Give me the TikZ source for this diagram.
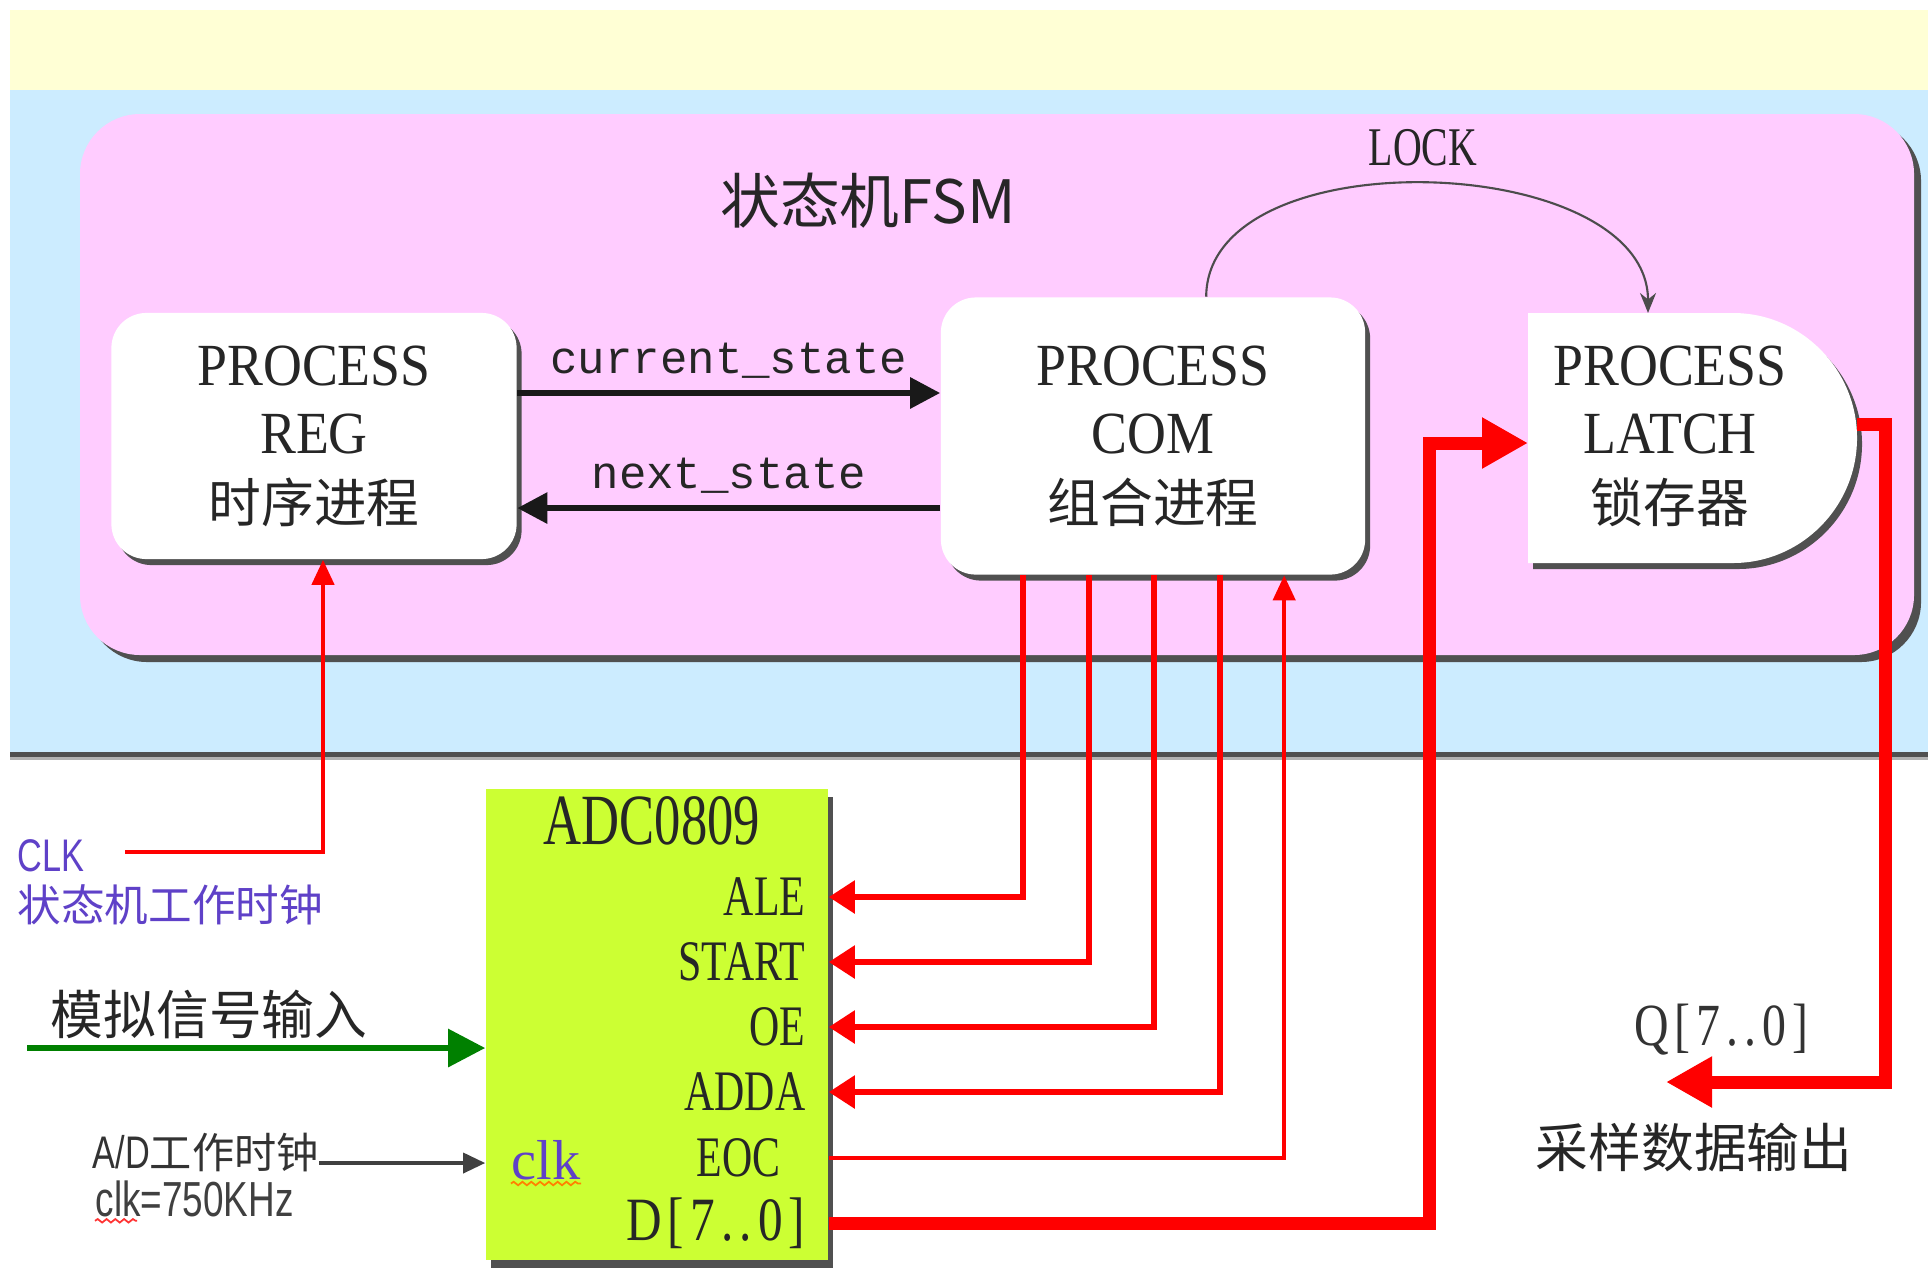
\documentclass[tikz,border=0pt]{standalone}
\usepackage{fontspec}
\setmainfont{Liberation Serif}
\setmonofont{Liberation Mono}
\newfontfamily\cjk{Noto Sans CJK SC}
\newfontfamily\procfont[FakeStretch=0.9]{Liberation Serif}
\newfontfamily\pinfont[FakeStretch=0.73]{Liberation Serif}
\newfontfamily\busfont[FakeStretch=0.8, LetterSpace=10]{Liberation Serif}
\newfontfamily\narrowsans[FakeStretch=0.75]{Liberation Sans}
\usetikzlibrary{arrows.meta, shadows, calc, decorations.pathmorphing}

\definecolor{bandyellow}{RGB}{255,255,213}
\definecolor{bandblue}{RGB}{204,236,255}
\definecolor{fsmpink}{RGB}{255,204,255}
\definecolor{adcgreen}{RGB}{204,255,51}
\definecolor{clkpurple}{RGB}{95,65,200}
\definecolor{shadowgray}{RGB}{80,80,80}
\definecolor{ingreen}{RGB}{0,128,0}

\begin{document}
\begin{tikzpicture}[x=0.01cm, y=-0.01cm,
    boxshadow/.style={drop shadow={shadow xshift=0.05cm, shadow yshift=-0.06cm, fill=shadowgray, opacity=1}},
    proc/.style={rectangle, rounded corners=0.35cm, fill=white, inner sep=0pt, align=center, text=black!85, font=\procfont\fontsize{17}{19.5}\selectfont, boxshadow},
    pinlabel/.style={anchor=east, inner sep=0pt, text=black!85, font=\pinfont\fontsize{16.3}{18}\selectfont},
    statearrow/.style={-{Triangle[length=0.3cm, width=0.3cm]}, line width=1.7pt, black!90},
    statelabel/.style={above, text=black!85, font=\ttfamily\fontsize{13}{15}\selectfont},
    ctrl/.style={-{Triangle[length=0.26cm, width=0.32cm]}, red, line width=1.6pt},
    clkarrow/.style={-{Triangle[length=0.25cm, width=0.22cm]}, red, line width=1.2pt},
    bus/.style={-{Triangle[length=0.46cm, width=0.48cm]}, red, line width=3.7pt},
    wavy/.style={decorate, decoration={snake, amplitude=0.5pt, segment length=2.5pt}, line width=0.5pt}
]
    % Fond
    \fill[white] (0,0) rectangle (1928,1269);
    \useasboundingbox (0,0) rectangle (1928,1269);
    \fill[bandyellow] (10,10) rectangle (1928,90);
    \fill[bandblue] (10,90) rectangle (1928,752);
    \fill[shadowgray] (10,752) rectangle (1928,757);
    \fill[gray!60] (10,757) rectangle (1928,760);
    \fill[fsmpink, rounded corners=0.6cm, drop shadow={shadow xshift=0.07cm, shadow yshift=-0.07cm, fill=shadowgray, opacity=1}] (80,114) rectangle (1914,655);
    \node[font=\cjk\fontsize{17}{20}\selectfont, text=black!85] (fsm) at (868,201) {状态机FSM};

    % Processus
    \node[proc, minimum width=4.05cm, minimum height=2.46cm] (reg) at (314,436) {PROCESS\\REG\\{\cjk\fontsize{15}{19.5}\selectfont 时序进程}};
    \node[proc, minimum width=4.24cm, minimum height=2.77cm] (com) at (1153,436) {PROCESS\\COM\\{\cjk\fontsize{15}{19.5}\selectfont 组合进程}};
    \fill[white, boxshadow] (1528,313) -- (1733,313) .. controls (1801,313) and (1857,369) .. (1857,438) .. controls (1857,507) and (1801,563) .. (1733,563) -- (1528,563) -- cycle;
    \node[align=center, text=black!85, font=\procfont\fontsize{17}{19.5}\selectfont] (latch) at (1670,436) {PROCESS\\LATCH\\{\cjk\fontsize{15}{19.5}\selectfont 锁存器}};
    \coordinate (latchin) at (1528,443);
    \coordinate (latchout) at (1857,424);
    \coordinate (latchtop) at (1648,313);

    % Etats
    \draw[statearrow] ([yshift=0.43cm]reg.east) -- node[statelabel] {current\_state} ([yshift=0.43cm]com.west);
    \draw[statearrow] ([yshift=-0.72cm]com.west) -- node[statelabel] {next\_state} ([yshift=-0.72cm]reg.east);

    % LOCK
    \node[font=\pinfont\fontsize{15.5}{18}\selectfont, text=black!85] (lock) at (1423,148) {LOCK};
    \draw[-{Stealth[length=0.2cm, width=0.16cm]}, black!70, line width=0.6pt] ($(com.north west)+(266,0)$) .. controls (1207,136) and (1648,151) .. (latchtop);

    % ADC0809
    \node[rectangle, fill=adcgreen, minimum width=3.42cm, minimum height=4.71cm, inner sep=0pt,
          drop shadow={shadow xshift=0.05cm, shadow yshift=-0.08cm, fill=shadowgray, opacity=1}] (adc) at (657,1024.5) {};
    \node[font=\pinfont\fontsize{20.5}{22}\selectfont, text=black!85] (adcname) at (652,821) {ADC0809};
    \node[pinlabel] (ale) at (806,897) {ALE};
    \node[pinlabel] (start) at (806,962) {START};
    \node[pinlabel] (oe) at (806,1027) {OE};
    \node[pinlabel] (adda) at (806,1092) {ADDA};
    \node[pinlabel] (eoc) at (781,1158) {EOC};
    \node[pinlabel, font=\busfont\fontsize{17.5}{20}\selectfont] (dout) at (806,1223) {D[7..0]};
    \node[font=\fontsize{16}{18}\selectfont, text=clkpurple, inner sep=0pt] (clkpin) at (546,1160) {clk};
    \draw[wavy, orange] ([yshift=-0.03cm]clkpin.south west) -- ([yshift=-0.03cm]clkpin.south east);

    % Signaux de commande
    \foreach \p/\dx in {ale/83, start/149, oe/214, adda/280}
        \draw[ctrl] ($(com.south west)+(\dx,0)$) |- (adc.east |- \p);
    \draw[clkarrow] (adc.east |- eoc) -| ($(com.south west)+(344,0)$);

    % Bus de donnees
    \draw[bus] (adc.east |- dout) -| ([xshift=-0.98cm]latchin) -- (latchin);
    \coordinate (qtip) at (1666,1082);
    \draw[bus] (latchout) -- ++(28,0) |- (qtip);
    \node[font=\busfont\fontsize{17}{20}\selectfont, text=black!80] (qname) at (1721,1030) {Q[7..0]};
    \node[font=\cjk\fontsize{15}{18}\selectfont, text=black!85] (qnote) at (1694,1147) {采样数据输出};

    % Horloges
    \node[anchor=west, inner sep=0pt, font=\narrowsans\fontsize{13}{15}\selectfont, text=clkpurple] (clkname) at (17,856) {CLK};
    \node[anchor=west, inner sep=0pt, font=\cjk\fontsize{12.4}{15}\selectfont, text=clkpurple] (clknote) at (17,905) {状态机工作时钟};
    \coordinate (clkin) at (125,852);
    \draw[clkarrow] (clkin) -| ([xshift=0.09cm]reg.south);

    % Entrees ADC
    \node[font=\cjk\fontsize{15}{18}\selectfont, text=black!85] (ain) at (209,1014) {模拟信号输入};
    \coordinate (ainsrc) at (27,1048);
    \draw[-{Triangle[length=0.37cm, width=0.37cm]}, ingreen, line width=1.7pt] (ainsrc) -- (ainsrc -| adc.west);
    \node[anchor=west, inner sep=0pt, text=black!80, font=\narrowsans\fontsize{13}{15}\selectfont] (adclk) at (92,1152) {A/D{\cjk\fontsize{12}{15}\selectfont 工作时钟}};
    \coordinate (adclksrc) at ([yshift=-0.11cm]adclk.east);
    \draw[-{Triangle[length=0.22cm, width=0.2cm]}, black!75, line width=1pt] (adclksrc) -- (adclksrc -| adc.west);
    \node[anchor=west, inner sep=0pt, text=black!75, font=\narrowsans\fontsize{14}{16}\selectfont] (adfreq) at (95,1199) {clk=750KHz};
    \draw[wavy, red!80] ([yshift=-0.03cm]adfreq.south west) -- ++(42,0);

\end{tikzpicture}
\end{document}
